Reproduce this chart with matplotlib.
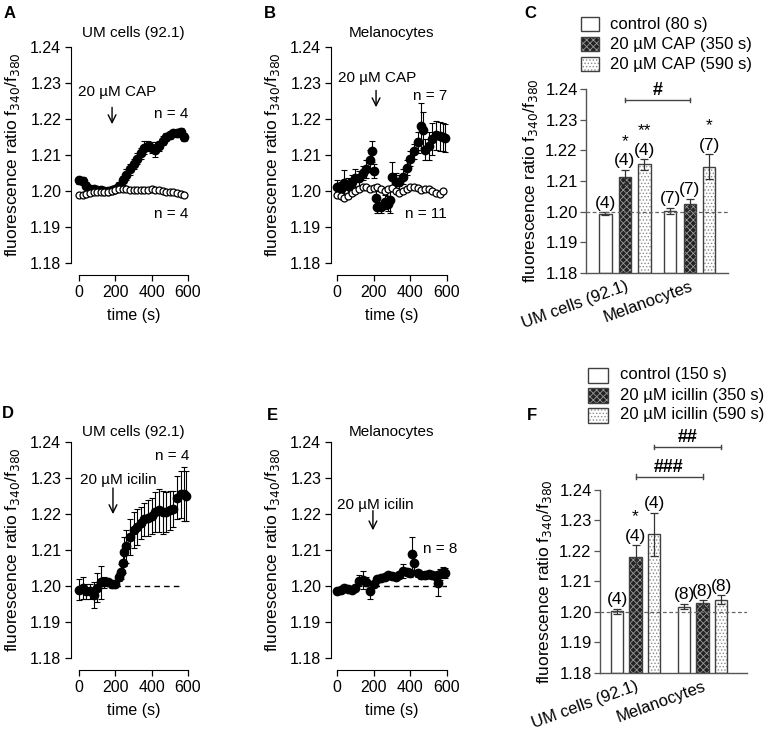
import matplotlib
matplotlib.use("Agg")
import matplotlib.pyplot as plt
from matplotlib.patches import Rectangle
import numpy as np

plt.rcParams['font.family'] = ['Liberation Sans', 'DejaVu Sans']
plt.rcParams['hatch.linewidth'] = 0.6

# ---------------- data ----------------
tA = [0, 20, 40, 60, 80, 100, 120, 140, 160, 180, 200, 220, 240, 260, 280, 300,
      320, 340, 360, 380, 400, 420, 440, 460, 480, 500, 520, 540, 560, 580]
A_cap = [1.2030, 1.2028, 1.2015, 1.2005, 1.2005, 1.2003, 1.2002, 1.2000, 1.2000, 1.2002,
         1.2005, 1.2015, 1.2030, 1.2045, 1.2060, 1.2075, 1.2090, 1.2105, 1.2120, 1.2125,
         1.2120, 1.2115, 1.2125, 1.2140, 1.2150, 1.2155, 1.2160, 1.2160, 1.2165, 1.2150]
A_cap_err = [0.0010, 0.0010, 0.0010, 0.0008, 0.0008, 0.0008, 0.0008, 0.0008, 0.0008, 0.0008,
             0.0008, 0.0010, 0.0012, 0.0015, 0.0015, 0.0015, 0.0015, 0.0015, 0.0018, 0.0015,
             0.0015, 0.0020, 0.0015, 0.0012, 0.0010, 0.0010, 0.0010, 0.0010, 0.0010, 0.0012]
A_ctrl = [1.1988, 1.1990, 1.1993, 1.1995, 1.1997, 1.1998, 1.1998, 1.1998, 1.1998, 1.2000,
          1.2002, 1.2005, 1.2005, 1.2005, 1.2004, 1.2003, 1.2003, 1.2002, 1.2002, 1.2003,
          1.2005, 1.2004, 1.2002, 1.2000, 1.1998, 1.1998, 1.1997, 1.1995, 1.1993, 1.1988]
A_ctrl_err = [0.0005] * 30

tB_cap = [0, 20, 40, 60, 80, 100, 120, 140, 160, 180, 190, 200, 210, 220, 240, 260, 280,
          290, 300, 320, 340, 360, 380, 400, 420, 440, 460, 470, 480, 500, 520, 540, 560, 580, 590]
B_cap = [1.2010, 1.2005, 1.2022, 1.2015, 1.2025, 1.2035, 1.2035, 1.2050, 1.2060, 1.2085,
         1.2110, 1.2055, 1.1980, 1.1955, 1.1955, 1.1970, 1.1965, 1.1975, 1.2040, 1.2025,
         1.2025, 1.2040, 1.2065, 1.2090, 1.2110, 1.2135, 1.2180, 1.2170, 1.2115, 1.2125,
         1.2145, 1.2155, 1.2152, 1.2150, 1.2147]
B_cap_err = [0.0020, 0.0020, 0.0035, 0.0020, 0.0020, 0.0025, 0.0020, 0.0020, 0.0025, 0.0030,
             0.0030, 0.0020, 0.0020, 0.0015, 0.0015, 0.0020, 0.0020, 0.0035, 0.0040, 0.0025,
             0.0020, 0.0020, 0.0020, 0.0020, 0.0020, 0.0030, 0.0065, 0.0050, 0.0030, 0.0040,
             0.0045, 0.0040, 0.0040, 0.0040, 0.0040]
tB_ctrl = tA
B_ctrl = [1.1990, 1.1985, 1.1980, 1.1985, 1.1995, 1.2000, 1.2005, 1.2010, 1.2010, 1.2005,
          1.2008, 1.2010, 1.2005, 1.2000, 1.2005, 1.2008, 1.2000, 1.1995, 1.2000, 1.2005,
          1.2010, 1.2012, 1.2008, 1.2003, 1.2005, 1.2005, 1.2000, 1.1995, 1.1993, 1.2000]
B_ctrl_err = [0.0005] * 30

tD = [0, 20, 40, 60, 80, 100, 120, 140, 160, 180, 200, 220, 230, 240, 250, 260, 280, 300,
      320, 340, 360, 380, 400, 420, 440, 460, 480, 500, 520, 540, 560, 580, 590]
D_ici = [1.1990, 1.1995, 1.1985, 1.1985, 1.1975, 1.1995, 1.2010, 1.2010, 1.2010, 1.2005,
         1.2005, 1.2025, 1.2040, 1.2065, 1.2095, 1.2110, 1.2135, 1.2155, 1.2165, 1.2175,
         1.2185, 1.2190, 1.2195, 1.2205, 1.2210, 1.2205, 1.2205, 1.2210, 1.2215, 1.2245,
         1.2255, 1.2255, 1.2250]
D_ici_err = [0.0030, 0.0030, 0.0020, 0.0020, 0.0035, 0.0040, 0.0045, 0.0015, 0.0010, 0.0010,
             0.0008, 0.0010, 0.0020, 0.0030, 0.0040, 0.0045, 0.0050, 0.0050, 0.0050, 0.0045,
             0.0045, 0.0050, 0.0050, 0.0055, 0.0060, 0.0060, 0.0055, 0.0055, 0.0050, 0.0060,
             0.0065, 0.0075, 0.0070]

tE = [0, 20, 40, 60, 80, 100, 120, 140, 160, 180, 200, 220, 240, 260, 280, 300, 320, 340,
      360, 380, 400, 410, 420, 440, 460, 480, 500, 520, 540, 550, 560, 580, 590]
E_ici = [1.1985, 1.1988, 1.1995, 1.1993, 1.1990, 1.1995, 1.2015, 1.2017, 1.2012, 1.1985,
         1.2005, 1.2020, 1.2022, 1.2025, 1.2030, 1.2028, 1.2025, 1.2030, 1.2042, 1.2040,
         1.2035, 1.2090, 1.2065, 1.2035, 1.2030, 1.2030, 1.2032, 1.2030, 1.2028, 1.2008,
         1.2032, 1.2038, 1.2036]
E_ici_err = [0.0008, 0.0008, 0.0008, 0.0008, 0.0008, 0.0008, 0.0015, 0.0025, 0.0012, 0.0020,
             0.0008, 0.0008, 0.0008, 0.0008, 0.0008, 0.0008, 0.0008, 0.0008, 0.0020, 0.0010,
             0.0010, 0.0045, 0.0020, 0.0010, 0.0010, 0.0010, 0.0010, 0.0010, 0.0010, 0.0035,
             0.0015, 0.0015, 0.0015]

groups = ['UM cells (92.1)', 'Melanocytes']
C_labels = ['control (80 s)', '20 µM CAP (350 s)', '20 µM CAP (590 s)']
C_means = [[1.1993, 1.2113, 1.2154], [1.2002, 1.2026, 1.2147]]
C_err = [[0.0005, 0.0024, 0.0018], [0.0011, 0.0016, 0.0040]]
C_n = [['(4)', '(4)', '(4)'], ['(7)', '(7)', '(7)']]
C_star = [['', '*', '**'], ['', '', '*']]

F_labels = ['control (150 s)', '20 µM icillin (350 s)', '20 µM icillin (590 s)']
F_means = [[1.2003, 1.2181, 1.2255], [1.2018, 1.2028, 1.2040]]
F_err = [[0.0008, 0.0038, 0.0071], [0.0009, 0.0011, 0.0015]]
F_n = [['(4)', '(4)', '(4)'], ['(8)', '(8)', '(8)']]
F_star = [['', '*', ''], ['', '', '']]

yticks = [1.18, 1.19, 1.20, 1.21, 1.22, 1.23, 1.24]
xticks = [0, 200, 400, 600]
ylab = r'fluorescence ratio f$_{340}$/f$_{380}$'

# ---------------- layout helpers ----------------
W, H = 767, 733
fig = plt.figure(figsize=(W / 100, H / 100), dpi=100)


def rect(x0, x1, ytop, ybot):
    return [x0 / W, 1 - ybot / H, (x1 - x0) / W, (ybot - ytop) / H]


def px2pt(p):
    return p * 0.72


def ftext(x, y, s, **kw):
    fig.text(x / W, 1 - y / H, s, **kw)


def ts_axes(r, left_off):
    ax = fig.add_axes(r)
    ax.set_xlim(0, 600)
    ax.set_ylim(1.18, 1.24)
    for s in ('top', 'right'):
        ax.spines[s].set_visible(False)
    ax.spines['left'].set_position(('outward', px2pt(left_off)))
    ax.spines['bottom'].set_position(('outward', px2pt(12)))
    ax.spines['left'].set_bounds(1.18, 1.24)
    ax.spines['bottom'].set_bounds(0, 600)
    ax.set_yticks(yticks)
    ax.set_yticklabels([f'{v:.2f}' for v in yticks])
    ax.set_xticks(xticks)
    ax.tick_params(labelsize=11.5, length=4, width=0.9, pad=3)
    ax.set_xlabel('time (s)', fontsize=11.5, labelpad=6)
    ax.set_ylabel(ylab, fontsize=12.5, labelpad=6)
    ax.patch.set_alpha(0)
    return ax


def filled(ax, t, y, e):
    ax.errorbar(t, y, yerr=e, fmt='o', color='black', ms=6.0, mfc='black', mec='black',
                elinewidth=0.8, capsize=2.4, capthick=0.8, clip_on=False, zorder=3)


def opened(ax, t, y, e):
    ax.errorbar(t, y, yerr=e, fmt='o', color='black', ms=5.0, mfc='white', mec='black',
                mew=0.9, elinewidth=0.6, capsize=1.8, capthick=0.6, clip_on=False, zorder=4)


def arrow(ax, x, y0, y1):
    ax.annotate('', xy=(x, y1), xytext=(x, y0), xycoords='data',
                arrowprops=dict(arrowstyle='->', lw=1.0, color='black',
                                mutation_scale=14))


# ---------------- A ----------------
axA = ts_axes(rect(79, 188, 47, 263), 8)
filled(axA, tA, A_cap, A_cap_err)
opened(axA, tA, A_ctrl, A_ctrl_err)
axA.text(-5, 1.2275, '20 µM CAP', fontsize=11, ha='left', va='center')
arrow(axA, 182, 1.2240, 1.2178)
axA.text(600, 1.2215, 'n = 4', fontsize=11, ha='right', va='center')
axA.text(600, 1.1935, 'n = 4', fontsize=11, ha='right', va='center')
axA.set_title('UM cells (92.1)', fontsize=11, pad=7)

# ---------------- B ----------------
axB = ts_axes(rect(337, 447, 47, 263), 6)
filled(axB, tB_cap, B_cap, B_cap_err)
opened(axB, tB_ctrl, B_ctrl, B_ctrl_err)
axB.text(5, 1.2315, '20 µM CAP', fontsize=11, ha='left', va='center')
arrow(axB, 213, 1.2287, 1.2225)
axB.text(600, 1.2265, 'n = 7', fontsize=11, ha='right', va='center')
axB.text(600, 1.1935, 'n = 11', fontsize=11, ha='right', va='center')
axB.set_title('Melanocytes', fontsize=11, pad=7)

# ---------------- D ----------------
axD = ts_axes(rect(79, 188, 442, 658), 8)
axD.plot([200, 550], [1.20, 1.20], ls=(0, (4, 3)), color='black', lw=1.0, zorder=1)
filled(axD, tD, D_ici, D_ici_err)
axD.text(5, 1.2295, '20 µM icilin', fontsize=11, ha='left', va='center')
arrow(axD, 187, 1.2280, 1.2192)
axD.text(610, 1.2360, 'n = 4', fontsize=11, ha='right', va='center')
axD.set_title('UM cells (92.1)', fontsize=11, pad=4)

# ---------------- E ----------------
axE = ts_axes(rect(337, 447, 442, 658), 6)
axE.plot([200, 600], [1.20, 1.20], ls=(0, (4, 3)), color='black', lw=1.0, zorder=1)
filled(axE, tE, E_ici, E_ici_err)
axE.text(0, 1.2225, '20 µM icilin', fontsize=11, ha='left', va='center')
arrow(axE, 196, 1.2217, 1.2147)
axE.text(470, 1.2102, 'n = 8', fontsize=11, ha='left', va='center')
axE.set_title('Melanocytes', fontsize=11, pad=4)


# ---------------- bar panels ----------------
def bar_axes(r, xlim):
    ax = fig.add_axes(r)
    ax.set_xlim(*xlim)
    ax.set_ylim(1.18, 1.24)
    for s in ('top', 'right'):
        ax.spines[s].set_visible(False)
    for s in ('left', 'bottom'):
        ax.spines[s].set_color('#555555')
        ax.spines[s].set_linewidth(1.0)
    ax.set_yticks(yticks)
    ax.set_yticklabels([f'{v:.2f}' for v in yticks])
    ax.tick_params(axis='y', labelsize=12, length=4, width=0.9, color='#555555', pad=2)
    ax.tick_params(axis='x', length=0, labelsize=12, pad=4)
    ax.set_ylabel(ylab, fontsize=12.5, labelpad=4)
    ax.axhline(1.20, ls=(0, (3, 2)), color='#666666', lw=0.9, zorder=5)
    ax.patch.set_alpha(0)
    return ax


styles = [dict(face='white', hatch=None, hc=None),
          dict(face='#222222', hatch='xxxxx', hc='#9a9a9a'),
          dict(face='white', hatch='.....', hc='#8a8a8a')]


def draw_bars(ax, means, errs, ns, stars, offset, width):
    for gi in range(len(means)):
        for bi in range(3):
            x = gi + (bi - 1) * offset
            m = means[gi][bi]
            st = styles[bi]
            if st['hatch']:
                ax.bar(x, m - 1.18, width, bottom=1.18, color=st['face'],
                       hatch=st['hatch'], edgecolor=st['hc'], lw=0, zorder=2)
            else:
                ax.bar(x, m - 1.18, width, bottom=1.18, color=st['face'], lw=0, zorder=2)
            ax.bar(x, m - 1.18, width, bottom=1.18, fill=False, edgecolor='#404040',
                   lw=1.0, zorder=3)
            e = errs[gi][bi]
            ax.errorbar(x, m, yerr=e, fmt='none', ecolor='#333333', elinewidth=0.9,
                        capsize=3, capthick=0.9, zorder=4, clip_on=False)
            top = m + e
            ax.annotate(ns[gi][bi], (x, top), xytext=(0, 1), textcoords='offset points',
                        ha='center', va='bottom', fontsize=12.5, annotation_clip=False)
            if stars[gi][bi]:
                ax.annotate(stars[gi][bi], (x, top), xytext=(0, 15),
                            textcoords='offset points', ha='center', va='bottom',
                            fontsize=12.5, annotation_clip=False)


def bracket(ax, x0, x1, y, s):
    ax.plot([x0, x1], [y, y], color='#444444', lw=1.0, clip_on=False)
    tick = 0.0008
    for xx in (x0, x1):
        ax.plot([xx, xx], [y - tick, y + tick], color='#444444', lw=1.0, clip_on=False)
    ax.text((x0 + x1) / 2, y + 0.0004, s, ha='center', va='bottom', fontsize=13,
            fontweight='bold', clip_on=False)


def legend(x_box, x_txt, ys, labels, bw, bh):
    for yc, lab, st in zip(ys, labels, styles):
        r = rect(x_box, x_box + bw, yc - bh / 2, yc + bh / 2)
        if st['hatch']:
            fig.add_artist(Rectangle((r[0], r[1]), r[2], r[3], transform=fig.transFigure,
                                     facecolor=st['face'], hatch=st['hatch'],
                                     edgecolor=st['hc'], lw=0))
        fig.add_artist(Rectangle((r[0], r[1]), r[2], r[3], transform=fig.transFigure,
                                 facecolor='none' if st['hatch'] else 'white',
                                 edgecolor='#404040', lw=1.0))
        ftext(x_txt, yc, lab, fontsize=12, ha='left', va='center')


# ---------------- C ----------------
axC = bar_axes(rect(586, 728, 89, 273), (-0.6, 1.585))
draw_bars(axC, C_means, C_err, C_n, C_star, 0.30, 0.185)
bracket(axC, 0.0, 1.0 - 0.0, 1.2364, '#')
axC.set_xticks([0, 1])
axC.set_xticklabels(groups, rotation=20, ha='right', rotation_mode='anchor')
legend(581, 610, [24, 44, 64], C_labels, 18, 14)

# ---------------- F ----------------
axF = bar_axes(rect(600, 747, 490, 673), (-0.53, 1.664))
draw_bars(axF, F_means, F_err, F_n, F_star, 0.276, 0.18)
bracket(axF, 0.0, 1.0, 1.2443, '###')
bracket(axF, 0.276, 1.276, 1.2541, '##')
axF.set_xticks([0, 1])
axF.set_xticklabels(groups, rotation=20, ha='right', rotation_mode='anchor')
legend(588, 620, [375, 395, 415], F_labels, 20, 15)

# ---------------- panel letters ----------------
for lab, x, y in [('A', 10, 13), ('B', 270, 13), ('C', 530, 13),
                  ('D', 8, 413), ('E', 272, 415), ('F', 532, 415)]:
    ftext(x, y, lab, fontsize=12, fontweight='bold', ha='center', va='center')

fig.savefig('out.png', dpi=100)
